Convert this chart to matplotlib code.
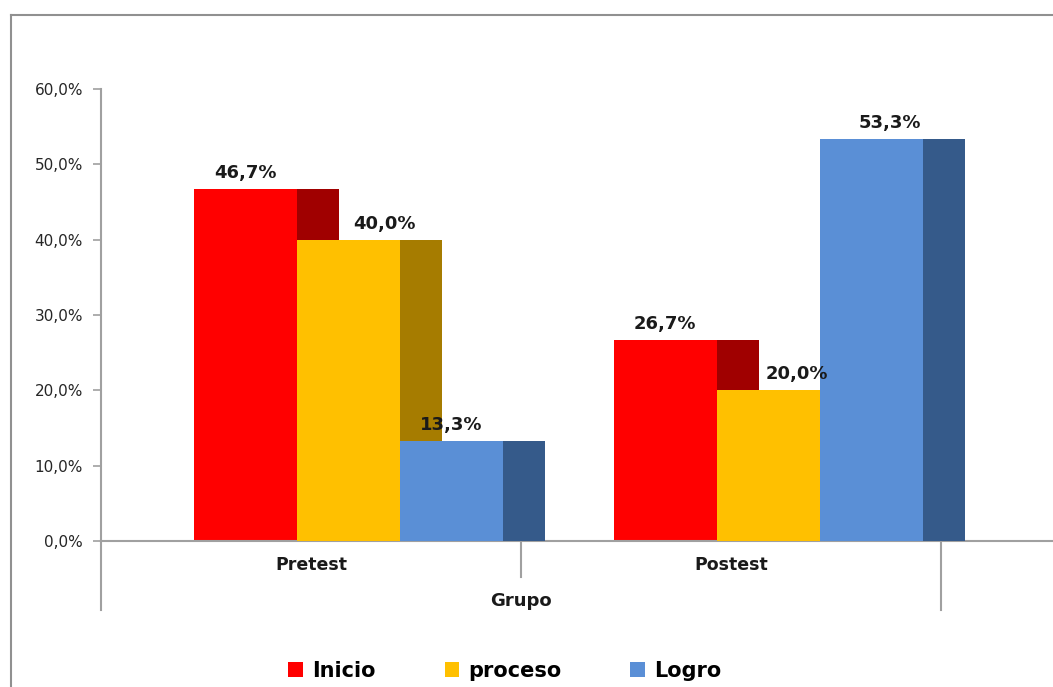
import matplotlib
matplotlib.use('Agg')
from matplotlib import pyplot as plt
from matplotlib.patches import Patch, Rectangle
from matplotlib.lines import Line2D

grupos = ['Pretest', 'Postest']
series = ['Inicio', 'proceso', 'Logro']
inicio = [46.7, 26.7]
proceso = [40.0, 20.0]
logro = [13.3, 53.3]
y_ticks = [0, 10, 20, 30, 40, 50, 60]

values = [inicio, proceso, logro]
front_colors = ['#FF0000', '#FFC000', '#5A8FD6']
side_colors = ['#A00000', '#A67C00', '#355A8A']
# label shifts (pixels) to follow how Excel placed them
label_dx = [[0, 0], [36, 29], [0, 19]]

fig = plt.figure(figsize=(10.53, 6.87), dpi=100)
ax = fig.add_axes([101 / 1053, (687 - 541) / 687, 952 / 1053, 452 / 687])

bar_w = 0.245
depth = 0.1
start = 0.221
grey = '#A0A0A0'

for s, vals in enumerate(values):
    for g, v in enumerate(vals):
        x0 = g + start + s * bar_w
        z = 2 + s
        ax.add_patch(Rectangle((x0 + bar_w, 0), depth, v, facecolor=side_colors[s],
                               edgecolor='none', zorder=z))
        ax.add_patch(Rectangle((x0, 0), bar_w, v, facecolor=front_colors[s],
                               edgecolor='none', zorder=z + 0.1))
        ax.annotate(f'{v:.1f}%'.replace('.', ','), (x0 + bar_w / 2, v),
                    xytext=(label_dx[s][g], 7), textcoords='offset pixels',
                    ha='center', va='bottom', fontsize=13, fontweight='bold',
                    color='#1a1a1a', zorder=10)

ax.set_xlim(0, 952 / 420)
ax.set_ylim(0, 60)
ax.set_yticks(y_ticks)
ax.set_yticklabels([f'{t:.1f}%'.replace('.', ',') for t in y_ticks], fontsize=11, color='#262626')
ax.set_xticks([])
ax.tick_params(axis='y', length=6, width=1.2, color=grey, pad=7)
for side in ['top', 'right']:
    ax.spines[side].set_visible(False)
for side in ['left', 'bottom']:
    ax.spines[side].set_color(grey)
    ax.spines[side].set_linewidth(1.5)

tr = ax.get_xaxis_transform()
for x, y_end in [(0, -69 / 452), (1, -36 / 452), (2, -69 / 452)]:
    ax.add_line(Line2D([x, x], [0, y_end], transform=tr, color=grey, lw=1.5, clip_on=False))
for g, name in enumerate(grupos):
    ax.text(g + 0.5, -24 / 452, name, transform=tr, ha='center', va='center',
            fontsize=12.5, fontweight='bold', color='#1a1a1a')
ax.text(1, -60 / 452, 'Grupo', transform=tr, ha='center', va='center',
        fontsize=13, fontweight='bold', color='#1a1a1a')

handles = [Patch(facecolor=c, edgecolor='none', label=n) for c, n in zip(front_colors, series)]
fig.legend(handles=handles, loc='center', bbox_to_anchor=(505 / 1053, 1 - 671 / 687), ncol=3,
           frameon=False, prop={'size': 15, 'weight': 'bold'}, handlelength=0.7,
           handleheight=0.7, handletextpad=0.45, columnspacing=3.3)

# chart area border (top and left only visible)
fig.add_artist(Line2D([11 / 1053, 11 / 1053], [0, 1 - 15 / 687], transform=fig.transFigure,
                      color='#909090', lw=1.5))
fig.add_artist(Line2D([11 / 1053, 1], [1 - 15 / 687, 1 - 15 / 687], transform=fig.transFigure,
                      color='#909090', lw=1.5))

fig.savefig('out.png', dpi=100)
